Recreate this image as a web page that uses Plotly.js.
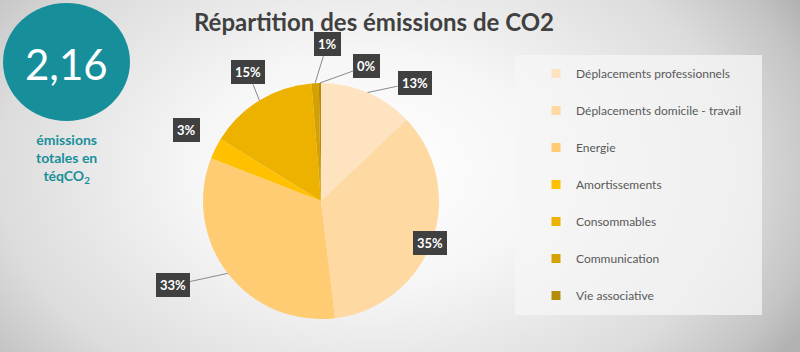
<!DOCTYPE html>
<html><head><meta charset="utf-8">
<script src="https://cdn.plot.ly/plotly-3.0.1.min.js"></script>
<style>
html,body{margin:0;padding:0;width:800px;height:352px;overflow:hidden;}
body{background: radial-gradient(ellipse 62% 95% at 46% 48%, #ffffff 0%, #f6f6f6 35%, #dcdcdc 75%, #c4c4c4 92%, #b2b2b2 100%);}
#chart{width:800px;height:352px;}
</style></head><body><div id="chart"></div>
<script>
const categories = ['Déplacements professionnels','Déplacements domicile - travail','Energie','Amortissements','Consommables','Communication','Vie associative'];
const values = [12.9, 35.2, 32.8, 2.9, 14.9, 1.0, 0.3];
const colors = ['#FDE3C0','#FED9A1','#FFCC73','#FFC000','#EDB100','#D4A100','#B58C0A'];
const totalEmissions = '2,16';
const totalLabel = 'émissions<br>totales en<br>téqCO<sub>2</sub>';
const chartTitle = 'Répartition des émissions de CO2';

const W = 800, H = 352;
const cx = 321, cy = 201, R = 118;
// label offsets (px) relative to the slice edge point
const offsets = [[47,-10],[-2,2],[-55,12],[-29,-18],[-11,-28],[12,-39],[47,-17]];

const total = values.reduce((a,b)=>a+b,0);
const annotations = [];
let cum = 0;
values.forEach((v,i)=>{
  const mid = (cum + v/2)/total * 2*Math.PI; cum += v;
  const px = cx + R*Math.sin(mid), py = cy - R*Math.cos(mid);
  const [ox,oy] = offsets[i];
  const noArrow = (i===1||i===3);
  annotations.push({
    xref:'paper', yref:'paper', xanchor:'center', yanchor:'middle',
    x: noArrow ? (px+ox)/W : px/W, y: noArrow ? 1-(py+oy)/H : 1-py/H,
    ax: noArrow?0:ox, ay: noArrow?0:oy, axref:'pixel', ayref:'pixel',
    showarrow: !noArrow, arrowhead:0, arrowwidth:1, arrowcolor:'#8a8a8a', standoff:0,
    text: Math.round(v/total*100)+'%',
    font:{family:'Lato, sans-serif', size:13, color:'#ffffff', weight:'bold'},
    bgcolor:'#404040', borderpad:4, bordercolor:'#404040', borderwidth:0
  });
});
annotations.push({xref:'paper',yref:'paper',xanchor:'center',yanchor:'middle',x:66/W,y:1-64/H,showarrow:false,text:totalEmissions,
  font:{family:'Lato, sans-serif',size:42,color:'#ffffff'}});
annotations.push({xref:'paper',yref:'paper',xanchor:'center',yanchor:'middle',x:66/W,y:1-158/H,showarrow:false,text:totalLabel,
  font:{family:'Lato, sans-serif',size:14,color:'#1A8F9B',weight:'bold'},align:'center'});

const traces = [{
  type:'pie', labels:categories, values:values, sort:false, direction:'clockwise', rotation:0,
  marker:{colors:colors, line:{width:0}}, textinfo:'none', hoverinfo:'label+percent',
  showlegend:false,
  domain:{x:[(cx-R)/W,(cx+R)/W], y:[(H-cy-R)/H,(H-cy+R)/H]}
}];
categories.forEach((c,i)=>{
  traces.push({type:'scatter', x:[null], y:[null], mode:'markers', name:c, legendgroup:'g'+i,
    marker:{symbol:'square', size:9, color:colors[i]}, hoverinfo:'skip'});
});

const layout = {
  width:W, height:H, margin:{l:0,r:0,t:0,b:0},
  paper_bgcolor:'rgba(0,0,0,0)', plot_bgcolor:'rgba(0,0,0,0)',
  title:{text:chartTitle, x:374/W, xanchor:'center', y:1-23/H, yanchor:'middle',
    font:{family:'Lato, sans-serif', size:24, color:'#404040', weight:'bold'}},
  xaxis:{visible:false}, yaxis:{visible:false},
  showlegend:true,
  legend:{x:536/W, xanchor:'left', y:1-59/H, yanchor:'top', bgcolor:'rgba(0,0,0,0)',
    font:{family:'Lato, sans-serif', size:12, color:'#595959'}, tracegroupgap:18, itemclick:false},
  shapes:[
    {type:'rect', xref:'paper', yref:'paper', x0:515/W, x1:762/W, y0:1-315/H, y1:1-55/H,
     fillcolor:'rgba(245,245,245,0.75)', line:{width:0}, layer:'below'},
    {type:'circle', xref:'paper', yref:'paper', x0:3/W, x1:130/W, y0:1-121/H, y1:1-3/H,
     fillcolor:'#178F9B', line:{width:0}, layer:'below'}
  ],
  annotations:annotations
};
Plotly.newPlot('chart', traces, layout, {displayModeBar:false, staticPlot:true});
</script></body></html>
